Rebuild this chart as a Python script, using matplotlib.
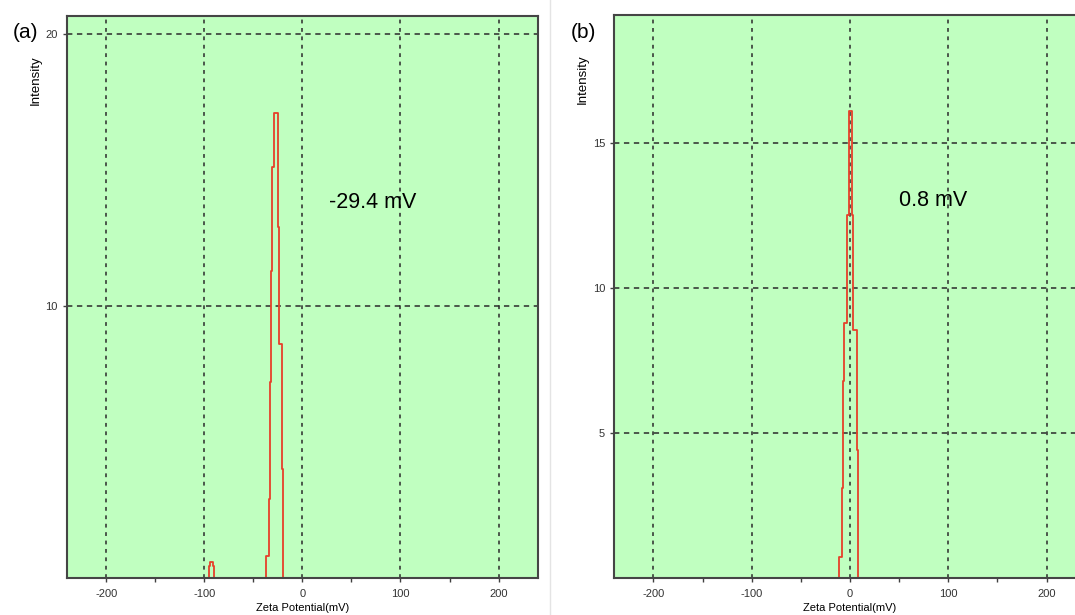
import matplotlib
matplotlib.use("Agg")
import matplotlib.pyplot as plt
from matplotlib.lines import Line2D

plt.rcParams["font.family"] = ["Liberation Sans", "DejaVu Sans"]
plt.rcParams["axes.unicode_minus"] = False

# Zeta potential distributions (step traces, mV vs intensity)
zeta_a_main = [-40.0, -37.6, -34.0, -33.0, -32.2, -31.5, -30.5, -29.1, -24.7, -24.1, -20.6, -20.0, -18.0]
intensity_a_main = [0.0, 0.8, 2.9, 7.2, 9.3, 11.3, 15.1, 17.1, 12.9, 8.6, 4.0, 0.0, 0.0]
zeta_a_small = [-97.0, -94.8, -93.8, -91.0, -90.0, -88.0]
intensity_a_small = [0.0, 0.45, 0.6, 0.45, 0.0, 0.0]

zeta_b = [-13.0, -11.2, -8.5, -7.1, -6.1, -2.8, -1.3, 2.3, 3.4, 7.4, 8.5, 10.0]
intensity_b = [0.0, 0.73, 3.1, 6.8, 8.8, 12.5, 16.1, 12.5, 8.55, 4.4, 0.0, 0.0]

x_ticks = [-200, -100, 0, 100, 200]
x_minor = [-150, -50, 50, 150]
y_ticks_a = [10, 20]
y_ticks_b = [5, 10, 15]

bg_green = "#C0FFC0"
trace_red = "#E6402A"
grid_color = "#2a2a2a"


def style_axes(ax, yticks, ymax):
    ax.set_facecolor(bg_green)
    ax.set_xlim(-240, 240)
    ax.set_ylim(0, ymax)
    ax.set_xticks(x_ticks)
    ax.set_xticks(x_minor, minor=True)
    ax.set_yticks(yticks)
    ax.tick_params(axis="both", which="both", direction="out", length=3,
                   width=1, color="#404040", labelsize=8, labelcolor="#333333")
    ax.tick_params(axis="x", pad=5)
    for spine in ax.spines.values():
        spine.set_color("#454545")
        spine.set_linewidth(1.5)
    for x in x_ticks:
        ax.axvline(x, color=grid_color, linestyle=(0, (2.5, 3)), linewidth=1.1, zorder=1)
    for y in yticks:
        ax.axhline(y, color=grid_color, linestyle=(0, (3.5, 3)), linewidth=1.1, zorder=1)
    ax.set_xlabel("Zeta Potential(mV)", fontsize=8, labelpad=3)
    ax.set_ylabel("Intensity", fontsize=9.5)
    ax.yaxis.set_label_coords(-0.054, 0.886)


def main():
    fig = plt.figure(figsize=(10.75, 6.15), dpi=100)

    ax_a = fig.add_axes([0.0623, 0.0602, 0.438, 0.914])
    style_axes(ax_a, y_ticks_a, 20.66)
    ax_a.step(zeta_a_main, intensity_a_main, where="post", color=trace_red, linewidth=1.3, zorder=2)
    ax_a.step(zeta_a_small, intensity_a_small, where="post", color=trace_red, linewidth=1.3, zorder=2)
    ax_a.text(27, 13.8, "-29.4 mV", fontsize=15.5, ha="left", va="center")

    ax_b = fig.add_axes([0.5712, 0.0602, 0.439, 0.9154])
    style_axes(ax_b, y_ticks_b, 19.4)
    ax_b.step(zeta_b, intensity_b, where="post", color=trace_red, linewidth=1.3, zorder=2)
    ax_b.text(50, 13.0, "0.8 mV", fontsize=15.5, ha="left", va="center")

    # panel letters
    fig.text(25 / 1075, 1 - 33 / 615, "(a)", fontsize=15, ha="center", va="center")
    fig.text(583 / 1075, 1 - 33 / 615, "(b)", fontsize=15, ha="center", va="center")

    # faint divider between the two panels
    fig.add_artist(Line2D([550 / 1075, 550 / 1075], [0, 1], color="#e4e4e4", linewidth=1))

    fig.savefig("out.png", dpi=100)


if __name__ == "__main__":
    main()
